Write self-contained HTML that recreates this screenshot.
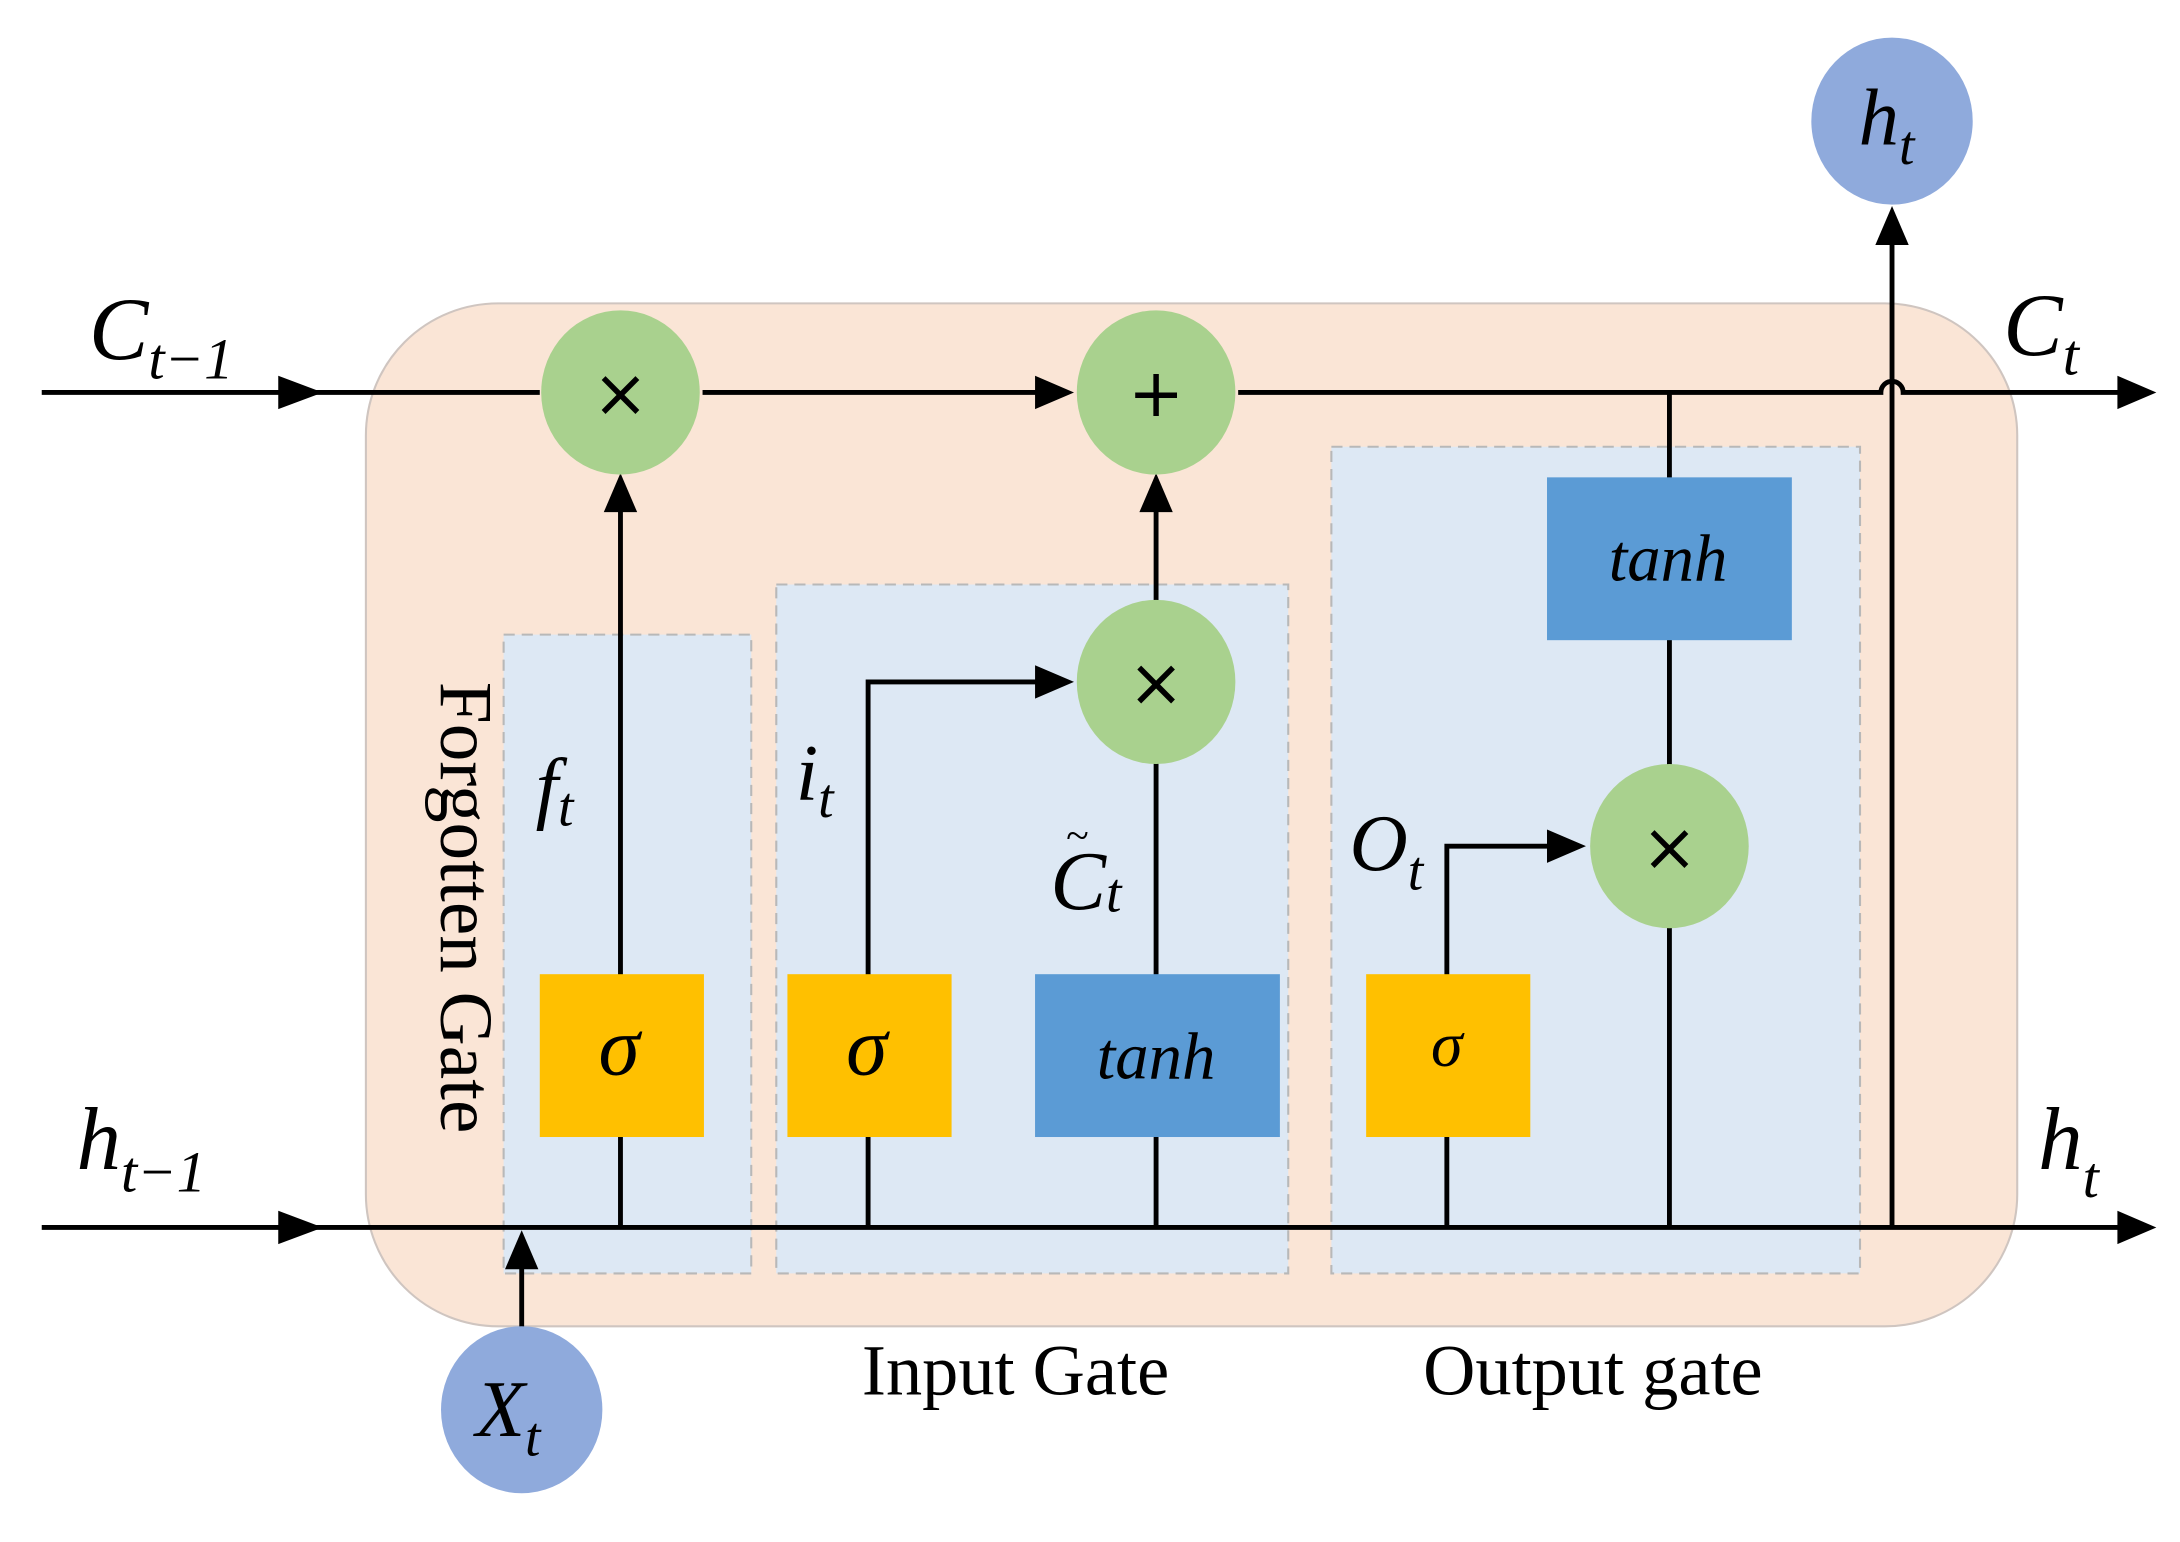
<!DOCTYPE html>
<html><head><meta charset="utf-8"><style>html,body{margin:0;padding:0;background:#fff}svg{display:block}</style></head>
<body>
<svg width="2180" height="1542" viewBox="0 0 1567 1108" preserveAspectRatio="none" xmlns="http://www.w3.org/2000/svg" font-family="'Liberation Serif', serif">
<rect x="263" y="218" width="1187" height="735" rx="95" fill="#fae5d6" stroke="#cfc5c0" stroke-width="1.5"/>
<g fill="#dde8f4" stroke="#b8b8b8" stroke-width="1.5" stroke-dasharray="8,5">
<rect x="362" y="456" width="178" height="459"/>
<rect x="558" y="420" width="368" height="495"/>
<rect x="957" y="321" width="380" height="594"/>
</g>
<g stroke="#000" stroke-width="3.5" fill="none">
<path d="M30 282 H388 M505 282 H760 M890 282 H1352 A8 8 0 0 1 1368 282 H1535"/>
<path d="M30 882 H1535"/>
<path d="M446 882 V350"/>
<path d="M624 882 V490 H760"/>
<path d="M831 882 V548 M831 432 V350"/>
<path d="M1040 882 V608 H1130"/>
<path d="M1200 882 V282"/>
<path d="M1360 882 V160"/>
<path d="M375 955 V900"/>
</g>
<g fill="#ffc000"><rect x="388" y="700" width="118" height="117"/><rect x="566" y="700" width="118" height="117"/><rect x="982" y="700" width="118" height="117"/></g>
<g fill="#5b9bd5"><rect x="744" y="700" width="176" height="117"/><rect x="1112" y="343" width="176" height="117"/></g>
<g fill="#000">
<path d="M200 270 L232 282 L200 294Z"/>
<path d="M200 870 L232 882 L200 894Z"/>
<path d="M744 270 L772 282 L744 294Z"/>
<path d="M1522 270 L1550 282 L1522 294Z"/>
<path d="M1522 870 L1550 882 L1522 894Z"/>
<path d="M744 478 L772 490 L744 502Z"/>
<path d="M1112 596 L1140 608 L1112 620Z"/>
<path d="M434 368 L446 340 L458 368Z"/>
<path d="M819 368 L831 340 L843 368Z"/>
<path d="M1348 176 L1360 148 L1372 176Z"/>
<path d="M363 912 L375 884 L387 912Z"/>
</g>
<g fill="#a9d18e">
<ellipse cx="446" cy="282" rx="57" ry="59"/><ellipse cx="831" cy="282" rx="57" ry="59"/><ellipse cx="831" cy="490" rx="57" ry="59"/><ellipse cx="1200" cy="608" rx="57" ry="59"/>
</g>
<g fill="#8faadc"><ellipse cx="1360" cy="87" rx="58" ry="60"/><ellipse cx="375" cy="1013" rx="58" ry="60"/></g>
<g font-family="'DejaVu Sans', sans-serif" font-size="48" text-anchor="middle" fill="#000">
<text x="446" y="299">×</text><text x="831" y="299">+</text><text x="831" y="507">×</text><text x="1200" y="625">×</text>
</g>
<g font-style="italic" fill="#000" text-anchor="middle">
<text x="445" y="772" font-size="60">σ</text>
<text x="623" y="772" font-size="60">σ</text>
<text x="1040" y="766" font-size="46">σ</text>
<text x="831" y="775" font-size="48">tanh</text>
<text x="1199" y="417" font-size="48">tanh</text>
</g>
<g font-style="italic" fill="#000">
<text x="64" y="258" font-size="64">C<tspan font-size="42" dy="14">t−1</tspan></text>
<text x="1440" y="255" font-size="64">C<tspan font-size="42" dy="14">t</tspan></text>
<text x="55" y="840" font-size="64">h<tspan font-size="42" dy="16">t−1</tspan></text>
<text x="1465" y="840" font-size="64">h<tspan font-size="42" dy="20">t</tspan></text>
<text x="1336" y="104" font-size="58">h<tspan font-size="40" dy="14">t</tspan></text>
<text x="342" y="1032" font-size="58">X<tspan font-size="40" dy="14">t</tspan></text>
<text x="385" y="585" font-size="58">f<tspan font-size="40" dy="8">t</tspan></text>
<text x="572" y="575" font-size="58">i<tspan font-size="40" dy="12">t</tspan></text>
<text x="755" y="653" font-size="60">C<tspan font-size="40" dy="2">t</tspan></text>
<text x="766" y="610" font-size="30">~</text>
<text x="970" y="625" font-size="58">O<tspan font-size="40" dy="14">t</tspan></text>
</g>
<g fill="#000">
<text transform="translate(317 490) rotate(90)" font-size="54">Forgotten Gate</text>
<text x="730" y="1002" text-anchor="middle" font-size="52">Input Gate</text>
<text x="1145" y="1002" text-anchor="middle" font-size="52">Output gate</text>
</g>
</svg>
</body></html>
